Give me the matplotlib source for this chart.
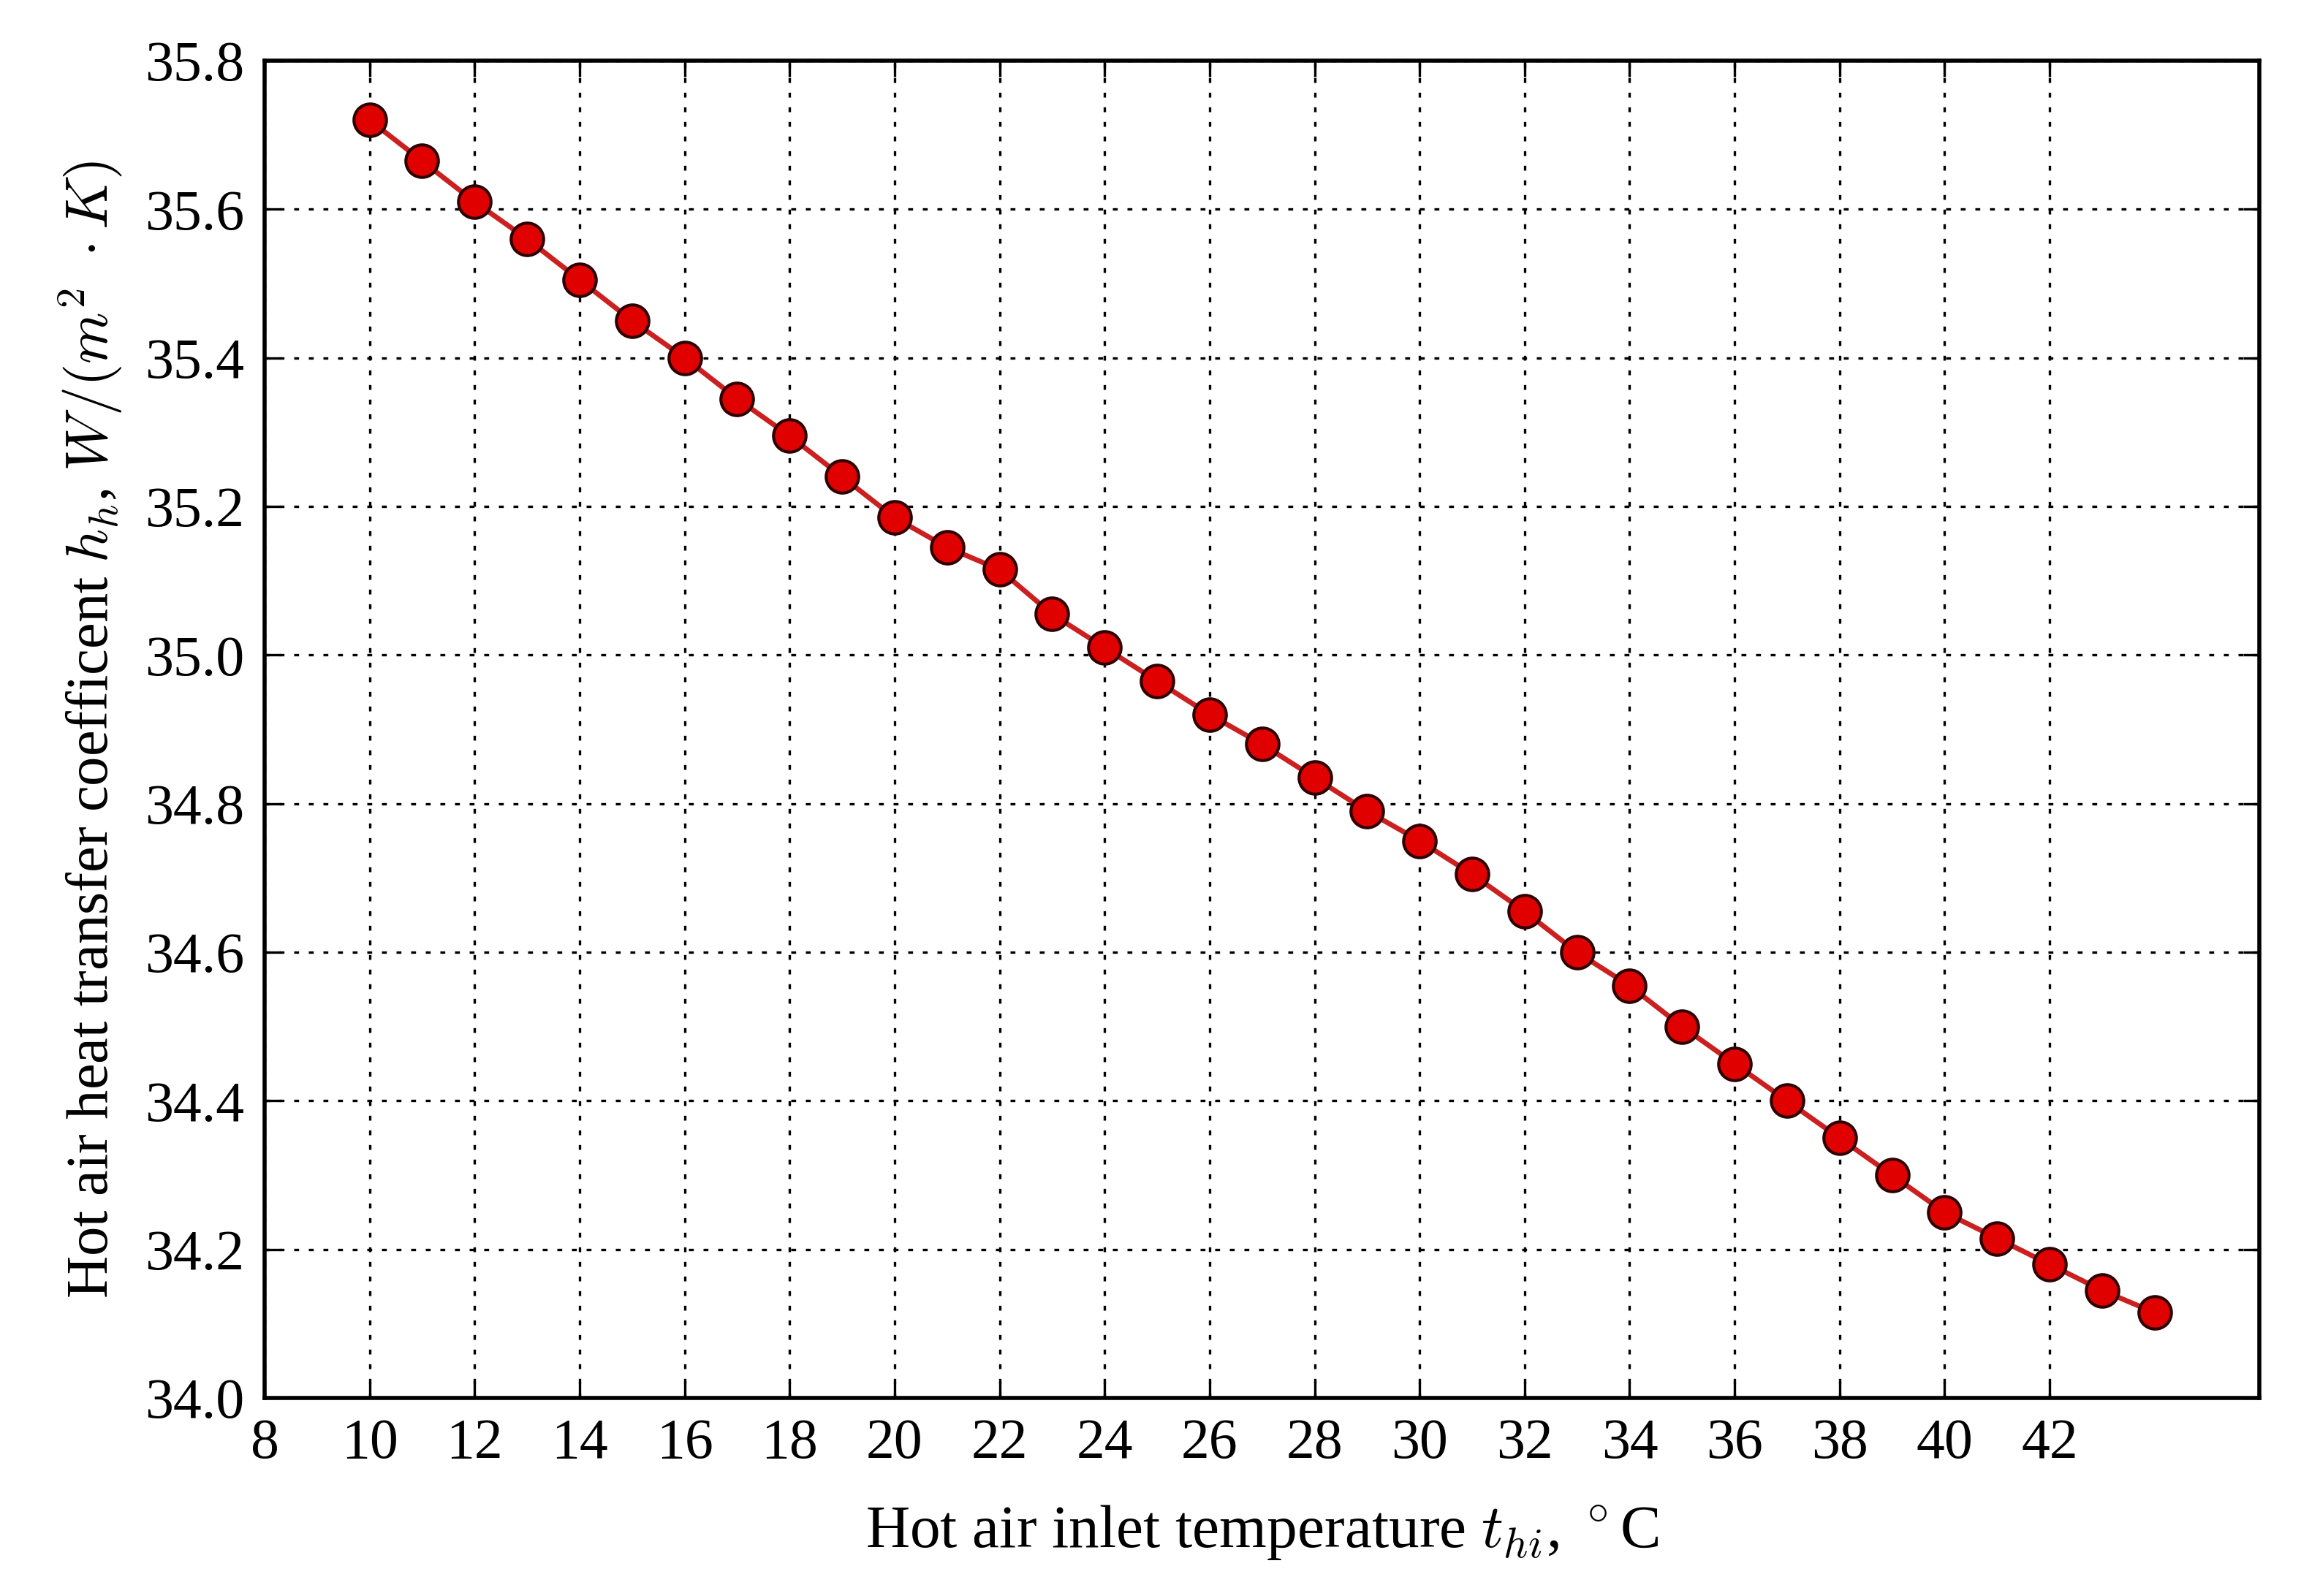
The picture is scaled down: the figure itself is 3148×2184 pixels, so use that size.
import matplotlib
matplotlib.use("Agg")
import matplotlib.pyplot as plt

temps = list(range(10, 45))
hh = [35.72, 35.665, 35.61, 35.56, 35.505, 35.45, 35.40, 35.345, 35.295, 35.24,
      35.185, 35.145, 35.115, 35.055, 35.01, 34.965, 34.92, 34.88, 34.835, 34.79,
      34.75, 34.705, 34.655, 34.60, 34.555, 34.50, 34.45, 34.40, 34.35, 34.30,
      34.25, 34.215, 34.18, 34.145, 34.115]
xticks = list(range(8, 44, 2))
yticks = [34.0, 34.2, 34.4, 34.6, 34.8, 35.0, 35.2, 35.4, 35.6, 35.8]

plt.rcParams['font.family'] = ['Liberation Serif', 'DejaVu Serif']
plt.rcParams['mathtext.fontset'] = 'cm'

fig = plt.figure(figsize=(15.74, 10.92), dpi=200)
ax = fig.add_axes([0.115, 0.124, 0.867, 0.838])
ax.plot(temps, hh, color='#cc2020', lw=2.5, marker='o', ms=16,
        markerfacecolor='#e00000', markeredgecolor='#300000', markeredgewidth=1.5, zorder=3)
ax.set_xlim(8, 46)
ax.set_ylim(34.0, 35.8)
ax.set_xticks(xticks)
ax.set_yticks(yticks)
ax.set_yticklabels([f"{v:.1f}" for v in yticks])
ax.tick_params(labelsize=28, direction='in', length=8, width=1.2, top=True, right=True, pad=10)
ax.grid(True, linestyle=(0, (2, 4)), color='black', lw=1.2)
for s in ax.spines.values():
    s.set_linewidth(2)
ax.set_xlabel(r"Hot air inlet temperature $t_{hi}$, $^\circ$C", fontsize=30, labelpad=16)
ax.set_ylabel(r"Hot air heat transfer coefficent $h_h$, $W/(m^2\ \cdot K)$", fontsize=29, labelpad=10)
fig.savefig("out.png", dpi=200)
